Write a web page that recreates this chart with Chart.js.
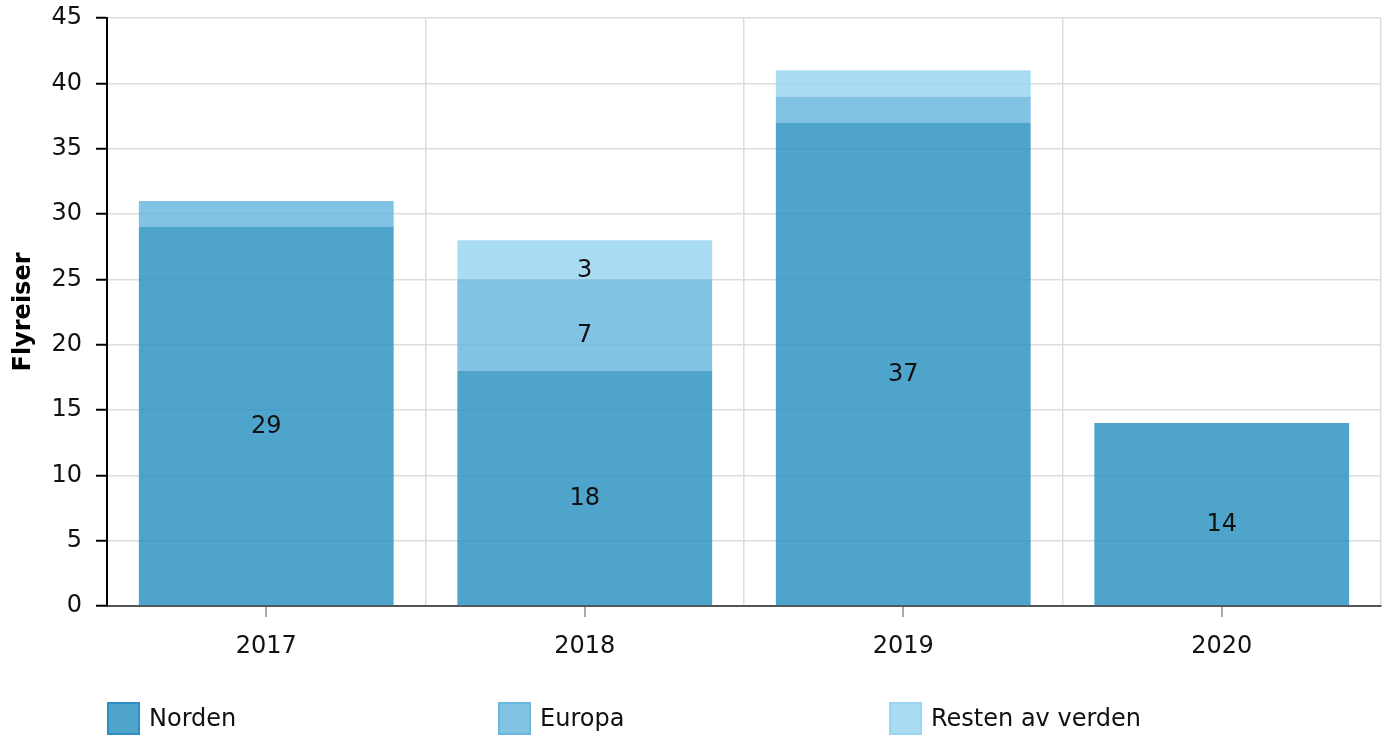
<!DOCTYPE html>
<html>
<head>
<meta charset="utf-8">
<script src="https://cdn.jsdelivr.net/npm/chart.js@4/dist/chart.umd.min.js"></script>
<style>
  html, body { margin: 0; padding: 0; background: #fff; }
  #wrap { width: 1388px; height: 735px; }
</style>
</head>
<body>
<div id="wrap"><canvas id="flyChart" width="1388" height="735"></canvas></div>
<script>
const years = ['2017', '2018', '2019', '2020'];
const norden = [29, 18, 37, 14];
const europa = [2, 7, 2, 0];
const resten = [0, 3, 2, 0];
const seriesNames = ['Norden', 'Europa', 'Resten av verden'];

const fills = ['rgba(48,148,195,0.85)', 'rgba(108,183,222,0.85)', 'rgba(154,213,241,0.85)'];
const legendBorders = ['#2c8ec4', '#6cb7e0', '#9ad5f1'];
const FONT = 'DejaVu Sans, Verdana, sans-serif';

// value labels in the middle of each segment (small ones skipped)
const segmentLabels = {
  id: 'segmentLabels',
  afterDatasetsDraw(chart) {
    const ctx = chart.ctx;
    ctx.save();
    ctx.font = '24px ' + FONT;
    ctx.fillStyle = '#111';
    ctx.textAlign = 'center';
    ctx.textBaseline = 'middle';
    chart.data.datasets.forEach((ds, i) => {
      const meta = chart.getDatasetMeta(i);
      meta.data.forEach((bar, j) => {
        const v = ds.data[j];
        if (v < 3) return;
        ctx.fillText(String(v), bar.x, (bar.y + bar.base) / 2 + 11);
      });
    });
    ctx.restore();
  }
};

// tick marks under the category centres + legend along the bottom
const extras = {
  id: 'extras',
  afterDraw(chart) {
    const ctx = chart.ctx;
    const xs = chart.scales.x;
    const bottom = chart.chartArea.bottom;
    ctx.save();
    ctx.strokeStyle = '#aaa';
    ctx.lineWidth = 2;
    years.forEach((y, i) => {
      const px = Math.round(xs.getPixelForValue(i));
      ctx.beginPath();
      ctx.moveTo(px, bottom + 1);
      ctx.lineTo(px, bottom + 11);
      ctx.stroke();
    });

    ctx.font = '24px ' + FONT;
    ctx.textBaseline = 'middle';
    ctx.textAlign = 'left';
    seriesNames.forEach((name, i) => {
      const x = 108 + i * 391;
      const y = 703;
      ctx.fillStyle = fills[i];
      ctx.fillRect(x, y, 31, 31);
      ctx.strokeStyle = legendBorders[i];
      ctx.lineWidth = 2;
      ctx.strokeRect(x, y, 31, 31);
      ctx.fillStyle = '#111';
      ctx.fillText(name, x + 41, 720);
    });
    ctx.restore();
  }
};

new Chart(document.getElementById('flyChart').getContext('2d'), {
  type: 'bar',
  data: {
    labels: years,
    datasets: [
      { label: seriesNames[0], data: norden, backgroundColor: fills[0] },
      { label: seriesNames[1], data: europa, backgroundColor: fills[1] },
      { label: seriesNames[2], data: resten, backgroundColor: fills[2] }
    ]
  },
  options: {
    responsive: false,
    animation: false,
    devicePixelRatio: 1,
    barPercentage: 0.8,
    categoryPercentage: 1.0,
    layout: { padding: { top: 18, right: 7, bottom: 69, left: 0 } },
    plugins: {
      legend: { display: false },
      tooltip: { enabled: false }
    },
    scales: {
      x: {
        stacked: true,
        grid: { offset: true, color: '#ddd', lineWidth: 1.5, drawTicks: false },
        border: { color: '#555', width: 2 },
        ticks: { color: '#111', font: { family: FONT, size: 24 }, padding: 26 },
        afterFit(scale) { scale.height = 60; }
      },
      y: {
        stacked: true,
        min: 0,
        max: 45,
        grid: { color: '#ddd', lineWidth: 1.5, tickColor: '#000', tickLength: 11, tickWidth: 2 },
        border: { color: '#000', width: 2 },
        ticks: { stepSize: 5, color: '#111', font: { family: FONT, size: 24 }, padding: 14 },
        title: {
          display: true,
          text: 'Flyreiser',
          color: '#000',
          font: { family: FONT, size: 24, weight: 'bold' },
          padding: { top: 9, bottom: 0 }
        },
        afterFit(scale) {
          scale.width = 107;
          scale.paddingTop = 0;
          scale.paddingBottom = 0;
        }
      }
    }
  },
  plugins: [segmentLabels, extras]
});
</script>
</body>
</html>
